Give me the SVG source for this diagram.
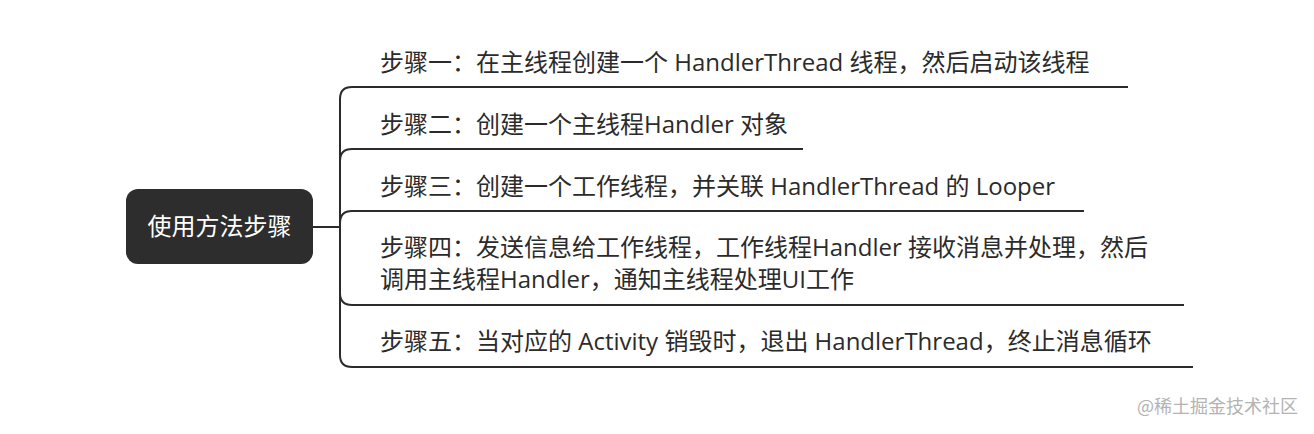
<svg xmlns="http://www.w3.org/2000/svg" width="1314" height="434" viewBox="0 0 1314 434">
<style>
.t{font-family:"Open Sans","Noto Sans CJK SC",sans-serif;font-size:24px;fill:#2b2b2b}
.r{font-family:"Open Sans","Noto Sans CJK SC",sans-serif;font-size:24px;fill:#ffffff}
.c{fill:none;stroke:#2b2b2b;stroke-width:2}
.w{font-family:"Noto Sans CJK SC",sans-serif;font-size:18px;fill:#b3b3b3}
</style>
<rect width="1314" height="434" fill="#ffffff"/>
<g id="connectors">
<path class="c" d="M313 227 H340"/>
<path class="c" d="M340 227 V99 Q340 87 352 87 H1128"/>
<path class="c" d="M340 227 V161 Q340 149 352 149 H803"/>
<path class="c" d="M340 227 V223 Q340 211 352 211 H1084"/>
<path class="c" d="M340 227 V293 Q340 305 352 305 H1184"/>
<path class="c" d="M340 227 V355 Q340 367 352 367 H1193"/>
</g>
<g id="root">
<rect x="126" y="189" width="187" height="75" rx="12" fill="#2d2d2d"/>
<text class="r" x="219.5" y="235" text-anchor="middle">使用方法步骤</text>
</g>
<g id="step1"><text class="t" x="380" y="71">步骤一：在主线程创建一个 HandlerThread 线程，然后启动该线程</text></g>
<g id="step2"><text class="t" x="380" y="133">步骤二：创建一个主线程Handler 对象</text></g>
<g id="step3"><text class="t" x="380" y="195">步骤三：创建一个工作线程，并关联 HandlerThread 的 Looper</text></g>
<g id="step4"><text class="t" x="380" y="256">步骤四：发送信息给工作线程，工作线程Handler 接收消息并处理，然后</text><text class="t" x="380" y="288">调用主线程Handler，通知主线程处理UI工作</text></g>
<g id="step5"><text class="t" x="380" y="350">步骤五：当对应的 Activity 销毁时，退出 HandlerThread，终止消息循环</text></g>
<text class="w" x="1298" y="413" text-anchor="end">@稀土掘金技术社区</text>
</svg>
